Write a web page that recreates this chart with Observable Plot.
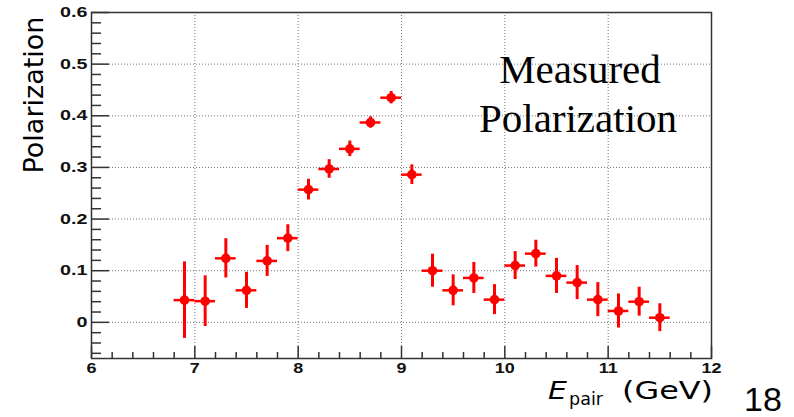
<!DOCTYPE html>
<html>
<head>
<meta charset="utf-8">
<script src="https://cdn.jsdelivr.net/npm/d3@7"></script>
<script src="https://cdn.jsdelivr.net/npm/@observablehq/plot@0.6"></script>
<style>
  html, body { margin: 0; padding: 0; background: #fff; }
  svg { display: block; }
</style>
</head>
<body>
<div id="chart"></div>
<script>
// Data
const energy = [6.9, 7.1, 7.3, 7.5, 7.7, 7.9, 8.1, 8.3, 8.5, 8.7, 8.9, 9.1, 9.3, 9.5, 9.7, 9.9, 10.1, 10.3, 10.5, 10.7, 10.9, 11.1, 11.3, 11.5];
const polarization = [0.043, 0.041, 0.124, 0.062, 0.119, 0.163, 0.257, 0.297, 0.336, 0.387, 0.435, 0.286, 0.100, 0.062, 0.086, 0.044, 0.110, 0.133, 0.090, 0.077, 0.044, 0.022, 0.040, 0.009];
const polError = [0.074, 0.049, 0.038, 0.035, 0.030, 0.026, 0.020, 0.018, 0.015, 0.011, 0.012, 0.019, 0.032, 0.030, 0.030, 0.029, 0.027, 0.026, 0.034, 0.033, 0.033, 0.033, 0.028, 0.027];
const binHalfWidth = 0.1;

const xMajor = [6, 7, 8, 9, 10, 11, 12];
const xTickLabels = ["6", "7", "8", "9", "10", "11", "12"];
const xMinor = d3.range(6, 12.001, 0.2).map(v => +v.toFixed(1)).filter(v => !xMajor.includes(v));
const yMajor = [0, 0.1, 0.2, 0.3, 0.4, 0.5, 0.6];
const yTickLabels = ["0", "0.1", "0.2", "0.3", "0.4", "0.5", "0.6"];
const yMinor = d3.range(-0.06, 0.6001, 0.02).map(v => +v.toFixed(2)).filter(v => !yMajor.some(m => Math.abs(m - v) < 1e-9));

const data = energy.map((e, i) => ({e, p: polarization[i], err: polError[i]}));

const W = 794, H = 417;
const mL = 91, mR = 83, mT = 12, mB = 59;
const innerW = W - mL - mR, innerH = H - mT - mB;
const red = "#f00";
const axisFont = "Liberation Sans, Arial, Helvetica, sans-serif";

const plot = Plot.plot({
  width: W,
  height: H,
  marginLeft: mL,
  marginRight: mR,
  marginTop: mT,
  marginBottom: mB,
  style: {background: "#fff", overflow: "visible"},
  x: {domain: [6, 12], axis: null},
  y: {domain: [-0.07, 0.6], axis: null},
  marks: [
    Plot.gridX(xMajor.slice(1, -1), {stroke: "#777", strokeOpacity: 1, strokeWidth: 1, strokeDasharray: "1,2"}),
    Plot.gridY(yMajor.slice(0, -1), {stroke: "#777", strokeOpacity: 1, strokeWidth: 1, strokeDasharray: "1,2"}),
    // inward ROOT-style ticks
    Plot.ruleY(yMajor, {insetRight: innerW - 18, stroke: "#333", strokeWidth: 1.5}),
    Plot.ruleY(yMinor, {insetRight: innerW - 10, stroke: "#333", strokeWidth: 1.5}),
    Plot.ruleX(xMajor, {insetTop: innerH - 12, stroke: "#333", strokeWidth: 1.5}),
    Plot.ruleX(xMinor, {insetTop: innerH - 6, stroke: "#333", strokeWidth: 1.5}),
    Plot.frame({stroke: "#333", strokeWidth: 1.5}),
    // tick labels
    Plot.text(xMajor, {x: d => d, frameAnchor: "bottom", lineAnchor: "top", dy: 4, text: (d, i) => xTickLabels[i],
      fontSize: 15, fontWeight: "bold", fontFamily: axisFont, fill: "#111"}),
    Plot.text(yMajor, {y: d => d, frameAnchor: "left", textAnchor: "end", dx: -4, text: (d, i) => yTickLabels[i],
      fontSize: 14.5, fontWeight: "bold", fontFamily: axisFont, fill: "#111"}),
    // error bars
    Plot.ruleX(data, {x: "e", y1: d => d.p - d.err, y2: d => d.p + d.err, stroke: red, strokeWidth: 3}),
    Plot.ruleY(data, {y: "p", x1: d => d.e - binHalfWidth, x2: d => d.e + binHalfWidth, stroke: red, strokeWidth: 2.5}),
    Plot.dot(data, {x: "e", y: "p", r: 4.8, fill: red, stroke: "none"})
  ]
});

document.getElementById("chart").appendChild(plot);
const svg = d3.select(plot);

// widen the tick labels a little (the reference's bold digits are stretched)
svg.selectAll("text").each(function () {
  const anchor = getComputedStyle(this).textAnchor;
  const sx = anchor === "end" ? 1.36 : 1.2;
  const len = this.getComputedTextLength();
  if (len > 0) {
    this.setAttribute("textLength", (len * sx).toFixed(2));
    this.setAttribute("lengthAdjust", "spacingAndGlyphs");
  }
});

function addText(x, y, str, opts) {
  const t = svg.append("text")
    .attr("x", x).attr("y", y)
    .attr("fill", "#000")
    .style("text-anchor", opts.anchor || "start")
    .style("font-family", opts.family)
    .style("font-size", opts.size + "px")
    .style("font-style", opts.italic ? "italic" : "normal")
    .style("font-weight", "normal")
    .text(str);
  if (opts.transform) t.attr("transform", opts.transform);
  if (opts.textLength) t.attr("textLength", opts.textLength).attr("lengthAdjust", "spacingAndGlyphs");
  return t;
}
const serif = "Liberation Serif, Times New Roman, serif";
const sans = "DejaVu Sans, sans-serif";
// annotation
addText(580, 83, "Measured", {anchor: "middle", family: serif, size: 41});
addText(578, 132, "Polarization", {anchor: "middle", family: serif, size: 41});
// y-axis title
addText(0, 0, "Polarization", {anchor: "middle", family: sans, size: 27, transform: "translate(43,95) rotate(-90)"});
// x-axis title: E_pair (GeV)
addText(548, 399, "E", {family: sans, size: 24, italic: true, textLength: 19});
addText(569, 405, "pair", {family: sans, size: 18, textLength: 34});
addText(622, 399, "(GeV)", {family: sans, size: 25, textLength: 91});
// slide number
addText(763, 411, "18", {anchor: "middle", family: "Liberation Sans, Arial, sans-serif", size: 34});
</script>
</body>
</html>
